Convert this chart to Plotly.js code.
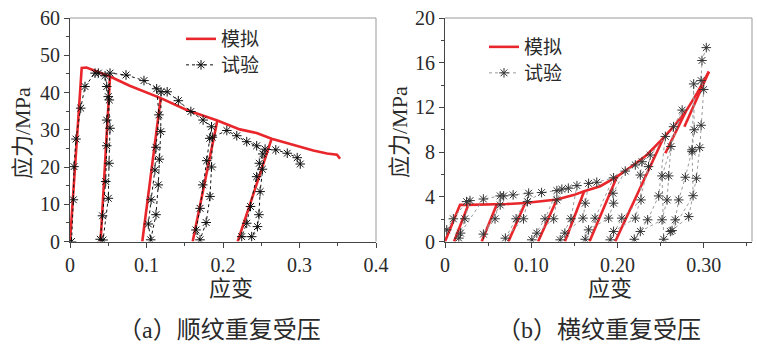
<!DOCTYPE html>
<html><head><meta charset="utf-8">
<script src="https://cdn.plot.ly/plotly-3.0.1.min.js"></script>
<style>html,body{margin:0;padding:0;background:#fff}#chart{width:757px;height:352px}</style>
</head><body><div id="chart"></div>
<script>
// ---------- (a) parallel-to-grain repeated compression ----------
const aSimEnvX = [0, 0.0153, 0.0215, 0.0305, 0.0523, 0.078, 0.1186, 0.1525, 0.1787, 0.1926, 0.222, 0.244, 0.2636, 0.292, 0.318, 0.336, 0.344, 0.349, 0.353];
const aSimEnvY = [0, 46.6, 46.7, 46.05, 44.3, 41.8, 38.5, 35.3, 33.4, 32.5, 30.1, 29.1, 27.6, 25.9, 24.4, 23.6, 23.3, 23.3, 22.2];
const aSimUnTopX = [0.0523, 0.1186, 0.1926, 0.2636];
const aSimUnTopY = [44.3, 38.5, 32.5, 27.6];
const aSimUnBotX = [0.040, 0.0945, 0.1604, 0.2192];

const aExpX = [0.002, 0.0044, 0.0052, 0.0078, 0.014, 0.0196, 0.0327, 0.037, 0.0458,
  0.048, 0.0514, 0.048, 0.048, 0.0467, 0.0425, 0.0395, 0.0432, 0.0501, 0.051, 0.0523, 0.050, 0.0523,
  0.0732, 0.0967, 0.1133,
  0.1163, 0.1124, 0.111, 0.106, 0.1024, 0.1055, 0.1124, 0.1154, 0.1167, 0.1186, 0.119,
  0.127, 0.1416, 0.158, 0.174, 0.185,
  0.1827, 0.1787, 0.1735, 0.170, 0.1647, 0.170, 0.178, 0.183, 0.185, 0.186,
  0.205, 0.218, 0.231, 0.244,
  0.252, 0.2475, 0.244, 0.236, 0.231, 0.2245, 0.2375, 0.245, 0.247, 0.2485, 0.2515, 0.255,
  0.269, 0.284, 0.297, 0.301];
const aExpY = [0, 11.2, 20.1, 27.5, 35.8, 41.6, 45.2, 45.2, 44.5,
  41.6, 38.0, 32.6, 25.7, 16.1, 6.9, 0.6, 0.4, 11.6, 21.0, 30.4, 38.9, 45.2,
  44.7, 43.2, 41.0,
  34.0, 25.3, 19.2, 11.2, 4.7, 0.45, 7.2, 15.2, 22.1, 29.5, 40.2,
  40.2, 37.8, 34.9, 32.6, 30.8,
  27.7, 21.7, 15.2, 8.9, 3.1, 0.45, 5.1, 12.1, 20.0, 28.0,
  29.8, 28.4, 26.8, 25.7,
  23.5, 21.0, 17.4, 9.4, 4.9, 1.3, 1.3, 4.0, 7.2, 13.4, 19.4, 24.8,
  24.6, 23.7, 22.5, 20.8];

// ---------- (b) perpendicular-to-grain repeated compression ----------
const bSimEnvX = [0, 0.0174, 0.027, 0.045, 0.060, 0.0716, 0.093, 0.110, 0.1297, 0.149, 0.1614, 0.18, 0.1994, 0.2187, 0.234, 0.2536, 0.265, 0.279, 0.2925, 0.306];
const bSimEnvY = [0, 3.28, 3.28, 3.29, 3.32, 3.35, 3.45, 3.57, 3.75, 4.15, 4.5, 4.95, 5.8, 6.85, 7.74, 9.3, 10.27, 11.6, 13.3, 15.2];
const bSimUnTopX = [0.027, 0.060, 0.093, 0.1297, 0.1614, 0.1994, 0.2536];
const bSimUnTopY = [3.28, 3.32, 3.45, 3.75, 4.5, 5.8, 9.3];
const bSimUnBotX = [0.0105, 0.0426, 0.0736, 0.108, 0.139, 0.1676, 0.1974];
const bSimReX0 = [0.2555, 0.2776];
const bSimReY0 = [7.9, 10.27];
const bSimReX1 = [0.279, 0.306];
const bSimReY1 = [11.6, 15.2];

const bExpX = [0.002, 0.0097, 0.025, 0.029, 0.023, 0.016, 0.018, 0.0445, 0.064, 0.058, 0.0445, 0.064, 0.068,
  0.079, 0.097, 0.0825, 0.070, 0.091, 0.0956, 0.112, 0.1297, 0.116, 0.1007, 0.1065, 0.126, 0.1297, 0.1355,
  0.143, 0.153, 0.146, 0.1336, 0.139, 0.16, 0.1626, 0.1665, 0.176, 0.1955, 0.174, 0.1626, 0.1665, 0.1897,
  0.1955, 0.1948, 0.209, 0.2207, 0.2285, 0.2265, 0.2273, 0.205, 0.1916, 0.1955, 0.2207, 0.236, 0.238,
  0.2555, 0.2478, 0.235, 0.2195, 0.2265, 0.2517, 0.2575, 0.2594, 0.262, 0.265, 0.275, 0.2517, 0.2536,
  0.2613, 0.267, 0.271, 0.2787, 0.2865, 0.289, 0.2884, 0.2865, 0.2877, 0.2633, 0.2826, 0.2915, 0.2954,
  0.297, 0.300, 0.297, 0.298, 0.303];
const bExpY = [1.04, 2.03, 3.57, 3.66, 2.03, 0.3, 0.75, 3.8, 4.08, 2.03, 0.66, 3.27, 4.08,
  4.17, 4.32, 2.03, 0.3, 2.03, 3.57, 4.38, 4.55, 2.03, 0.15, 0.75, 2.03, 3.72, 4.68,
  4.77, 5.0, 2.03, 0.15, 0.75, 2.09, 3.43, 5.2, 5.3, 5.7, 2.09, 0.2, 1.04, 2.09,
  3.43, 4.32, 6.3, 6.85, 7.14, 5.95, 3.72, 2.09, 0.15, 0.9, 2.09, 6.7, 7.74,
  9.4, 4.08, 1.94, 0.2, 0.9, 1.94, 3.72, 5.87, 8.5, 10.27, 11.76, 5.87, 0.2,
  0.9, 1.94, 3.72, 5.75, 8.2, 10.0, 14.1, 8.04, 4.1, 0.98, 2.23, 5.66, 8.4,
  10.4, 13.6, 14.4, 16.2, 17.35];

const aXTickVals = [0, 0.1, 0.2, 0.3, 0.4];
const aXTickText = ['0', '0.1', '0.2', '0.3', '0.4'];
const bXTickVals = [0, 0.1, 0.2, 0.3];
const bXTickText = ['0', '0.10', '0.20', '0.30'];

// ---------- build paths ----------
function withSegments(envX, envY, sx0, sy0, sx1, sy1) {
  const X = envX.slice(), Y = envY.slice();
  for (let i = 0; i < sx0.length; i++) {
    X.push(null, sx0[i], sx1[i]);
    Y.push(null, sy0[i], sy1[i]);
  }
  return [X, Y];
}
const zerosA = aSimUnBotX.map(() => 0);
const zerosB = bSimUnBotX.map(() => 0);
let [aSX, aSY] = withSegments(aSimEnvX, aSimEnvY, aSimUnTopX, aSimUnTopY, aSimUnBotX, zerosA);
let [bSX, bSY] = withSegments(bSimEnvX, bSimEnvY, bSimUnTopX, bSimUnTopY, bSimUnBotX, zerosB);
let [bSX2, bSY2] = withSegments(bSX, bSY, bSimReX0, bSimReY0, bSimReX1, bSimReY1);

const RED = '#e8262b';
const CJK = '"Liberation Serif", "Noto Sans CJK SC", serif';
const TXT = '#2a2a2a';

const traces = [
  {x: aSX, y: aSY, xaxis: 'x', yaxis: 'y', mode: 'lines', name: '模拟',
   line: {color: RED, width: 2.6}, connectgaps: false, legend: 'legend'},
  {x: aExpX, y: aExpY, xaxis: 'x', yaxis: 'y', mode: 'lines+markers', name: '试验',
   line: {color: '#111', width: 1, dash: 'dot'},
   marker: {symbol: 'asterisk-open', size: 8, color: '#111', line: {color: '#111', width: 1}}, legend: 'legend2'},
  {x: bSX2, y: bSY2, xaxis: 'x2', yaxis: 'y2', mode: 'lines', name: '模拟',
   line: {color: RED, width: 2.6}, connectgaps: false, legend: 'legend3'},
  {x: bExpX, y: bExpY, xaxis: 'x2', yaxis: 'y2', mode: 'lines+markers', name: '试验',
   line: {color: '#9a9a9a', width: 1, dash: 'dot'},
   marker: {symbol: 'asterisk-open', size: 8, color: '#333', line: {color: '#333', width: 1}}, legend: 'legend4'}
];

const W = 757, H = 352;
const px = v => v / W, py = v => 1 - v / H;
const tickFont = {family: '"Liberation Serif", serif', size: 20, color: TXT};
function axBase() {
  return {showline: true, linecolor: '#444', linewidth: 1, ticks: 'outside', ticklen: 5, tickwidth: 1,
    tickcolor: '#444', showgrid: false, zeroline: false, tickfont: tickFont, fixedrange: true};
}
const legFont = {family: '"Noto Sans CJK SC", sans-serif', size: 19, color: TXT};
function leg(x, y) {
  return {x: px(x), y: py(y), xanchor: 'left', yanchor: 'middle', bgcolor: 'rgba(0,0,0,0)',
    borderwidth: 0, font: legFont};
}
const layout = {
  width: W, height: H, margin: {l: 0, r: 0, t: 0, b: 0},
  paper_bgcolor: '#fff', plot_bgcolor: '#fff', showlegend: true,
  xaxis: Object.assign(axBase(), {domain: [px(70), px(376)], range: [0, 0.4], anchor: 'y',
    tickvals: aXTickVals, ticktext: aXTickText, minor: {dtick: 0.05, ticks: 'outside', ticklen: 3, tickcolor: '#444'}}),
  yaxis: Object.assign(axBase(), {domain: [py(241.5), py(18)], range: [0, 60], dtick: 10, anchor: 'x',
    minor: {dtick: 5, ticks: 'outside', ticklen: 3, tickcolor: '#444'}}),
  xaxis2: Object.assign(axBase(), {domain: [px(445), px(752)], range: [0, 0.356], anchor: 'y2',
    tickvals: bXTickVals, ticktext: bXTickText, minor: {dtick: 0.05, ticks: 'outside', ticklen: 3, tickcolor: '#444'}}),
  yaxis2: Object.assign(axBase(), {domain: [py(241.5), py(18)], range: [0, 20], dtick: 4, anchor: 'x2',
    minor: {dtick: 2, ticks: 'outside', ticklen: 3, tickcolor: '#444'}}),
  legend: leg(181, 39), legend2: leg(181, 65), legend3: leg(484, 47), legend4: leg(484, 73),
  shapes: [
    {type: 'line', xref: 'x domain', yref: 'y domain', x0: 0, x1: 1, y0: 1, y1: 1, line: {color: '#999', width: 1}},
    {type: 'line', xref: 'x domain', yref: 'y domain', x0: 1, x1: 1, y0: 0, y1: 1, line: {color: '#999', width: 1}},
    {type: 'line', xref: 'x2 domain', yref: 'y2 domain', x0: 0, x1: 1, y0: 1, y1: 1, line: {color: '#999', width: 1}},
    {type: 'line', xref: 'x2 domain', yref: 'y2 domain', x0: 1, x1: 1, y0: 0, y1: 1, line: {color: '#999', width: 1}}
  ],
  annotations: [
    {text: '应力/MPa', x: px(22), y: py(133), textangle: -90},
    {text: '应力/MPa', x: px(399), y: py(132), textangle: -90},
    {text: '应变', x: px(231), y: py(288)},
    {text: '应变', x: px(610), y: py(288)},
    {text: '（a）顺纹重复受压', x: px(219), y: py(330), font: {family: CJK, size: 24, color: TXT}},
    {text: '（b）横纹重复受压', x: px(599), y: py(330), font: {family: CJK, size: 24, color: TXT}}
  ].map(a => Object.assign({xref: 'paper', yref: 'paper', showarrow: false, xanchor: 'center', yanchor: 'middle',
    font: {family: CJK, size: 22, color: TXT}}, a))
};
Plotly.newPlot('chart', traces, layout, {displayModeBar: false, staticPlot: true});
</script>
</body></html>
